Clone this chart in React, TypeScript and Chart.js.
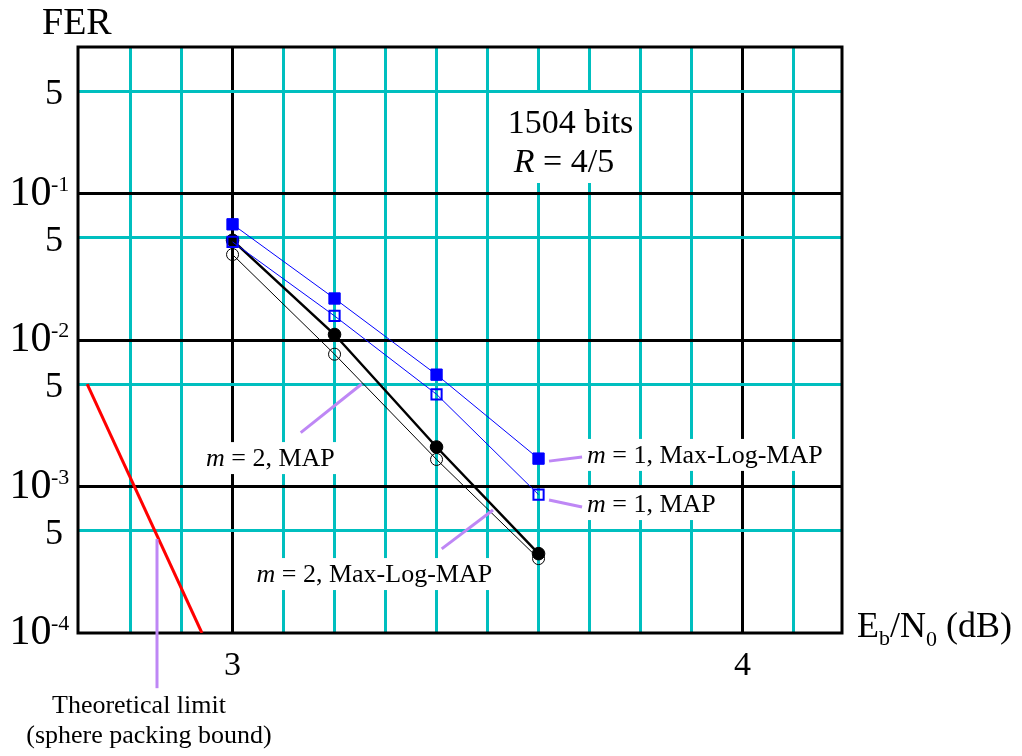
import React, { useEffect, useRef } from 'react';
import { Chart, registerables } from 'chart.js';

Chart.register(...registerables);

// ---------- data ----------
const ebn0 = [3.0, 3.2, 3.4, 3.6];
const ferM1MaxLogMap = [0.0616, 0.0192, 0.0058, 0.00155];
const ferM1Map = [0.0467, 0.0146, 0.00426, 0.00088];
const ferM2MaxLogMap = [0.0479, 0.0109, 0.00186, 0.000348];
const ferM2Map = [0.0383, 0.0080, 0.00153, 0.000322];
const limitEbn0 = [2.715, 2.94];
const limitFer = [0.005, 0.0001];

// ---------- axes ----------
const xMin = 2.697;
const xMax = 4.195;
const yMin = 0.0001;
const yMax = 1;
const xGridValues = [2.8, 2.9, 3.0, 3.1, 3.2, 3.3, 3.4, 3.5, 3.6, 3.7, 3.8, 3.9, 4.0, 4.1];
const yGridValues = [0.0005, 0.001, 0.005, 0.01, 0.05, 0.1, 0.5];
const xTickValues = [3, 4];
const xTickLabels = ['3', '4'];
const yTickValues = [0.5, 0.1, 0.05, 0.01, 0.005, 0.001, 0.0005, 0.0001];
const yTickMantissa = ['5', '10', '5', '10', '5', '10', '5', '10'];
const yTickExponent = ['', '-1', '', '-2', '', '-3', '', '-4'];

// ---------- annotations (data coordinates) ----------
const curveLabelItalic = ['m', 'm', 'm', 'm'];
const curveLabelRest = [' = 1, Max-Log-MAP', ' = 1, MAP', ' = 2, MAP', ' = 2, Max-Log-MAP'];
const curveLabelX = [3.695, 3.695, 2.948, 3.047];
const curveLabelY = [1.45e-3, 6.7e-4, 1.38e-3, 2.23e-4];
const pointerFromX = [3.6205, 3.6205, 3.1337, 3.4101, 2.8519];
const pointerFromY = [1.49e-3, 8.09e-4, 2.33e-3, 3.75e-4, 4.38e-4];
const pointerToX = [3.6853, 3.6853, 3.2533, 3.5107, 2.8519];
const pointerToY = [1.59e-3, 7.24e-4, 5.01e-3, 6.91e-4, 4.2e-5];
const limitCaption = ['Theoretical limit', '(sphere packing bound)'];
const limitCaptionX = [2.8166, 2.8362];
const limitCaptionY = [2.844e-5, 1.775e-5];
const infoTitle = '1504 bits';
const infoRateItalic = 'R';
const infoRateRest = ' = 4/5';
const infoX = [3.6627, 3.65];
const infoY = [0.2588, 0.1402];

const SERIF = '"Liberation Serif", "Times New Roman", serif';
const CYAN = '#00BFBF';
const PURPLE = 'rgb(190,135,245)';
const BLUE = '#0000FF';

const isWhole = (v: number) => Math.abs(v - Math.round(v)) < 1e-6;

const pairs = (xs: number[], ys: number[]) => xs.map((x, i) => ({ x, y: ys[i] }));

function drawSegments(ctx: CanvasRenderingContext2D, parts: { t: string; italic: boolean }[], x: number, y: number, size: number) {
  let cx = x;
  for (const p of parts) {
    ctx.font = `${p.italic ? 'italic ' : ''}${size}px ${SERIF}`;
    ctx.fillText(p.t, cx, y);
    cx += ctx.measureText(p.t).width;
  }
  return cx - x;
}

function measureSegments(ctx: CanvasRenderingContext2D, parts: { t: string; italic: boolean }[], size: number) {
  let w = 0;
  for (const p of parts) {
    ctx.font = `${p.italic ? 'italic ' : ''}${size}px ${SERIF}`;
    w += ctx.measureText(p.t).width;
  }
  return w;
}

const overlayPlugin = {
  id: 'overlay',
  beforeDatasetsDraw(chart: any) {
    const ctx: CanvasRenderingContext2D = chart.ctx;
    const xs = chart.scales.x;
    const ys = chart.scales.y;
    const a = chart.chartArea;
    ctx.save();
    ctx.fillStyle = '#ffffff';
    // white boxes behind curve labels
    const fs = 26;
    for (let i = 0; i < curveLabelRest.length; i++) {
      const parts = [{ t: curveLabelItalic[i], italic: true }, { t: curveLabelRest[i], italic: false }];
      const w = measureSegments(ctx, parts, fs);
      const px = xs.getPixelForValue(curveLabelX[i]);
      const py = ys.getPixelForValue(curveLabelY[i]);
      ctx.fillRect(px - 3, py - 0.92 * fs, w + 6, 1.23 * fs);
    }
    // white box behind info block
    {
      const fi = 34;
      ctx.font = `${fi}px ${SERIF}`;
      const w1 = ctx.measureText(infoTitle).width;
      const w2 = measureSegments(ctx, [{ t: infoRateItalic, italic: true }, { t: infoRateRest, italic: false }], fi);
      const c1 = xs.getPixelForValue(infoX[0]);
      const c2 = xs.getPixelForValue(infoX[1]);
      const b1 = ys.getPixelForValue(infoY[0]);
      const b2 = ys.getPixelForValue(infoY[1]);
      const left = Math.min(c1 - w1 / 2, c2 - w2 / 2) - 8;
      const right = Math.max(c1 + w1 / 2, c2 + w2 / 2) + 4;
      ctx.fillRect(left, b1 - 40, right - left, b2 + 11 - (b1 - 40));
    }
    // frame
    ctx.strokeStyle = '#000';
    ctx.lineWidth = 3;
    ctx.strokeRect(a.left, a.top, a.right - a.left, a.bottom - a.top);
    ctx.restore();
  },
  afterDatasetsDraw(chart: any) {
    const ctx: CanvasRenderingContext2D = chart.ctx;
    const xs = chart.scales.x;
    const ys = chart.scales.y;
    const a = chart.chartArea;
    ctx.save();
    // pointer lines
    ctx.strokeStyle = PURPLE;
    ctx.lineWidth = 3;
    for (let i = 0; i < pointerFromX.length; i++) {
      ctx.beginPath();
      ctx.moveTo(xs.getPixelForValue(pointerFromX[i]), ys.getPixelForValue(pointerFromY[i]));
      ctx.lineTo(xs.getPixelForValue(pointerToX[i]), ys.getPixelForValue(pointerToY[i]));
      ctx.stroke();
    }
    ctx.fillStyle = '#000';
    ctx.textBaseline = 'alphabetic';
    // curve labels
    ctx.textAlign = 'left';
    for (let i = 0; i < curveLabelRest.length; i++) {
      const parts = [{ t: curveLabelItalic[i], italic: true }, { t: curveLabelRest[i], italic: false }];
      drawSegments(ctx, parts, xs.getPixelForValue(curveLabelX[i]), ys.getPixelForValue(curveLabelY[i]), 26);
    }
    // info block
    {
      const fi = 34;
      ctx.font = `${fi}px ${SERIF}`;
      ctx.textAlign = 'center';
      ctx.fillText(infoTitle, xs.getPixelForValue(infoX[0]), ys.getPixelForValue(infoY[0]));
      ctx.textAlign = 'left';
      const parts = [{ t: infoRateItalic, italic: true }, { t: infoRateRest, italic: false }];
      const w2 = measureSegments(ctx, parts, fi);
      drawSegments(ctx, parts, xs.getPixelForValue(infoX[1]) - w2 / 2, ys.getPixelForValue(infoY[1]), fi);
    }
    // theoretical limit caption
    ctx.textAlign = 'center';
    ctx.font = `26px ${SERIF}`;
    for (let i = 0; i < limitCaption.length; i++) {
      ctx.fillText(limitCaption[i], xs.getPixelForValue(limitCaptionX[i]), ys.getPixelForValue(limitCaptionY[i]));
    }
    // y tick labels
    for (let i = 0; i < yTickValues.length; i++) {
      const py = ys.getPixelForValue(yTickValues[i]);
      if (yTickExponent[i]) {
        ctx.font = `42px ${SERIF}`;
        ctx.textAlign = 'right';
        ctx.fillText(yTickMantissa[i], a.left - 26.5, py + 11);
        ctx.font = `22px ${SERIF}`;
        ctx.textAlign = 'left';
        ctx.fillText(yTickExponent[i], a.left - 27, py - 3);
      } else {
        ctx.font = `36px ${SERIF}`;
        ctx.textAlign = 'right';
        ctx.fillText(yTickMantissa[i], a.left - 15, py + 13);
      }
    }
    // x tick labels
    ctx.font = `34px ${SERIF}`;
    ctx.textAlign = 'center';
    for (let i = 0; i < xTickValues.length; i++) {
      ctx.fillText(xTickLabels[i], xs.getPixelForValue(xTickValues[i]), a.bottom + 42);
    }
    // axis titles
    ctx.textAlign = 'left';
    ctx.font = `38px ${SERIF}`;
    ctx.fillText('FER', a.left - 36, a.top - 13);
    let cx = a.right + 15;
    const base = a.bottom + 4;
    const seg = (t: string, size: number, dy: number) => {
      ctx.font = `${size}px ${SERIF}`;
      ctx.fillText(t, cx, base + dy);
      cx += ctx.measureText(t).width;
    };
    seg('E', 36, 0);
    seg('b', 22, 8);
    seg('/N', 36, 0);
    seg('0', 22, 9);
    seg(' (dB)', 36, 0);
    ctx.restore();
  },
};

export default function App() {
  const canvasRef = useRef<HTMLCanvasElement | null>(null);

  useEffect(() => {
    const canvas = canvasRef.current;
    if (!canvas) return;
    const chart = new Chart(canvas, {
      type: 'line',
      data: {
        datasets: [
          {
            label: 'm = 1, Max-Log-MAP',
            data: pairs(ebn0, ferM1MaxLogMap),
            borderColor: BLUE,
            borderWidth: 1,
            pointStyle: 'rect',
            pointRadius: 8,
            pointBackgroundColor: BLUE,
            pointBorderColor: BLUE,
            pointBorderWidth: 1,
            tension: 0,
          },
          {
            label: 'm = 1, MAP',
            data: pairs(ebn0, ferM1Map),
            borderColor: BLUE,
            borderWidth: 1,
            pointStyle: 'rect',
            pointRadius: 7.2,
            pointBackgroundColor: 'rgba(0,0,0,0)',
            pointBorderColor: BLUE,
            pointBorderWidth: 2,
            tension: 0,
          },
          {
            label: 'm = 2, Max-Log-MAP',
            data: pairs(ebn0, ferM2MaxLogMap),
            borderColor: '#000',
            borderWidth: 2.5,
            pointStyle: 'circle',
            pointRadius: 6.3,
            pointBackgroundColor: '#000',
            pointBorderColor: '#000',
            pointBorderWidth: 1,
            tension: 0,
          },
          {
            label: 'm = 2, MAP',
            data: pairs(ebn0, ferM2Map),
            borderColor: '#000',
            borderWidth: 1,
            pointStyle: 'circle',
            pointRadius: 6,
            pointBackgroundColor: 'rgba(0,0,0,0)',
            pointBorderColor: '#000',
            pointBorderWidth: 1,
            tension: 0,
          },
          {
            label: 'Theoretical limit',
            data: pairs(limitEbn0, limitFer),
            borderColor: '#FF0000',
            borderWidth: 3,
            pointRadius: 0,
            tension: 0,
          },
        ],
      },
      options: {
        responsive: false,
        devicePixelRatio: 1,
        animation: false,
        events: [],
        layout: { padding: { left: 78, right: 180, top: 47, bottom: 123 } },
        plugins: {
          legend: { display: false },
          tooltip: { enabled: false },
          title: { display: false },
        },
        scales: {
          x: {
            type: 'linear',
            min: xMin,
            max: xMax,
            afterBuildTicks: (s: any) => {
              s.ticks = xGridValues.map((v) => ({ value: v }));
            },
            ticks: { display: false },
            border: { display: false },
            grid: {
              drawTicks: false,
              lineWidth: 3,
              color: (c: any) => (c.tick && isWhole(c.tick.value) ? '#000' : CYAN),
            },
          },
          y: {
            type: 'logarithmic',
            min: yMin,
            max: yMax,
            afterBuildTicks: (s: any) => {
              s.ticks = yGridValues.map((v) => ({ value: v }));
            },
            ticks: { display: false },
            border: { display: false },
            grid: {
              drawTicks: false,
              lineWidth: 3,
              color: (c: any) => {
                const v = c.tick ? c.tick.value : 1;
                return isWhole(Math.log10(v)) ? '#000' : CYAN;
              },
            },
          },
        },
      },
      plugins: [overlayPlugin],
    } as any);
    return () => chart.destroy();
  }, []);

  return (
    <div style={{ position: 'absolute', left: 0, top: 0, width: 1022, height: 756, background: '#fff' }}>
      <canvas ref={canvasRef} width={1022} height={756} />
    </div>
  );
}
